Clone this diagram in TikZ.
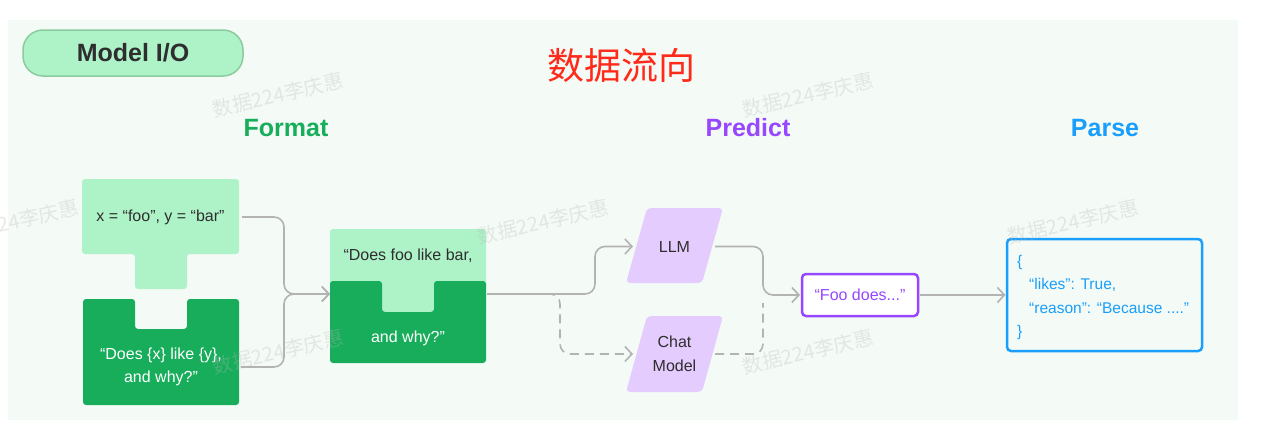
\documentclass[tikz,border=0pt]{standalone}
\usepackage{fontspec}
\setmainfont{Liberation Sans}
\newfontfamily\cjkfont{Noto Sans CJK SC}
\usetikzlibrary{arrows.meta}
\definecolor{panel}{HTML}{F4FBF6}
\definecolor{lightgreen}{HTML}{AEF2C8}
\definecolor{darkgreen}{HTML}{17AD5B}
\definecolor{pillborder}{HTML}{8CCB9E}
\definecolor{lavender}{HTML}{E4CCFF}
\definecolor{purp}{HTML}{9747FF}
\definecolor{blu}{HTML}{1A9EFB}
\definecolor{conn}{HTML}{B3B3B3}
\definecolor{ink}{HTML}{2E2E2E}
\definecolor{titlered}{HTML}{FF2A1A}
\definecolor{wmgray}{HTML}{B8B8B8}
\begin{document}
\begin{tikzpicture}[x=1pt,y=-1pt,
  anchorbox/.style={rectangle, inner sep=0pt, outer sep=0pt},
  body/.style={font=\fontsize{16}{23.5}\selectfont, text=ink, align=center, inner sep=0pt},
  heading/.style={font=\fontsize{25}{30}\selectfont\bfseries, inner sep=0pt},
  link/.style={draw=conn, line width=1.6pt, rounded corners=10pt},
  tip/.style={-{Straight Barb[length=7pt,width=15pt,line width=1.6pt]}},
  dashlink/.style={link, dash pattern=on 9pt off 6pt},
  wm/.style={font=\cjkfont\fontsize{20}{24}\selectfont, text=wmgray, opacity=0.3, rotate=13, inner sep=0pt},
  jsonline/.style={font=\fontsize{15.5}{23.5}\selectfont, text=blu, anchor=base west, inner sep=0pt}
]
\fill[white] (0,0) rectangle (1273,434);
\useasboundingbox (0,0) rectangle (1273,434);
\fill[panel] (8,20) rectangle (1238,420);

% header
\node[anchorbox, draw=pillborder, fill=lightgreen, line width=1.5pt, rounded corners=20pt,
      minimum width=220pt, minimum height=46pt, font=\fontsize{25}{30}\selectfont\bfseries, text=ink] (pill) at (133,53) {Model I/O};
\node[font=\cjkfont\fontsize{37}{40}\selectfont, text=titlered, inner sep=0pt] (title) at (621,65) {数据流向};

\node[heading, text=darkgreen] (fmt) at (286,128) {Format};
\node[heading, text=purp] (pred) at (748,128) {Predict};
\node[heading, text=blu] (pars) at (1105,128) {Parse};

% Format: variables block
\fill[lightgreen, rounded corners=3pt] (82,179) -- (239,179) -- (239,254) -- (187,254) -- (187,289) -- (135,289) -- (135,254) -- (82,254) -- cycle;
\node[anchorbox, body, minimum width=157pt, minimum height=75pt] (vars) at (160.5,217) {x = “foo”, y = “bar”};

% Format: template block
\fill[darkgreen, rounded corners=3pt] (83,299) -- (135,299) -- (135,329) -- (187,329) -- (187,299) -- (239,299) -- (239,405) -- (83,405) -- cycle;
\node[anchorbox, body, text=white, minimum width=156pt, minimum height=76pt] (tmpl) at (161,367) {“Does \{x\} like \{y\},\\and why?”};

% Format: filled prompt block
\fill[lightgreen, rounded corners=3pt] (330,229) rectangle (486,312);
\fill[darkgreen, rounded corners=3pt] (330,281) -- (382,281) -- (382,312) -- (434,312) -- (434,281) -- (486,281) -- (486,363) -- (330,363) -- cycle;
\node[anchorbox, minimum width=156pt, minimum height=130pt] (prompt) at (408,294) {};
\node[body] (ptop) at (408,256) {“Does foo like bar,};
\node[body, text=white] (pbot) at (408,338) {and why?”};

% Predict: models
\fill[lavender, rounded corners=4pt] (647,208) -- (723,208) -- (702,283) -- (626,283) -- cycle;
\node[anchorbox, body, minimum width=76pt, minimum height=75pt] (llm) at (674.5,246.5) {LLM};
\fill[lavender, rounded corners=4pt] (647,316) -- (723,316) -- (702,392) -- (626,392) -- cycle;
\node[anchorbox, body, minimum width=76pt, minimum height=76pt] (chat) at (674.5,354) {Chat\\Model};

% Predict output
\node[anchorbox, draw=purp, fill=white, line width=2.5pt, rounded corners=4pt,
      minimum width=116pt, minimum height=42pt, body, text=purp] (foo) at (860,295) {“Foo does...”};

% Parse output
\node[anchorbox, draw=blu, line width=2.5pt, rounded corners=4pt,
      minimum width=195pt, minimum height=112pt] (parse) at (1104.5,295) {};
\node[jsonline] (j1) at (1017,266.5) {\{};
\node[jsonline] (j2) at (1029,289.5) {“likes”: True,};
\node[jsonline] (j3) at (1029,313) {“reason”: “Because ....”};
\node[jsonline] (j4) at (1017,336.5) {\}};

% connectors
\coordinate (merge) at (284,294);
\coordinate (splitA) at (595,294);
\coordinate (dashstart) at (546,294);
\coordinate (chatturn) at (560,354);
\coordinate (join) at (763,295);
\coordinate (joinB) at (763,303);

\draw[link, tip] ([xshift=3pt]vars.east) -| (merge) -- (prompt.west);
\draw[link, tip] ([xshift=2pt]tmpl.east) -| (merge) -- (prompt.west);
\draw[link, tip] ([xshift=1pt]prompt.east) -- (splitA) |- ([xshift=-3.5pt]llm.west);
\draw[dashlink, tip] (dashstart) -| (chatturn) -- ([xshift=-3.5pt]chat.west);
\draw[link, tip] ([xshift=2.5pt]llm.east) -| (join) -- ([xshift=-2pt]foo.west);
\draw[dashlink] ([xshift=2.5pt]chat.east) -| (joinB);
\draw[link, tip] ([xshift=2pt]foo.east) -- ([xshift=-1.5pt]parse.west);

% watermarks
\foreach \wx/\wy [count=\i] in {278/95, 808/95, 13/222, 543/222, 1073/222, 278/352, 808/352}
  \node[wm] (wm\i) at (\wx,\wy) {数据224李庆惠};
\end{tikzpicture}
\end{document}
